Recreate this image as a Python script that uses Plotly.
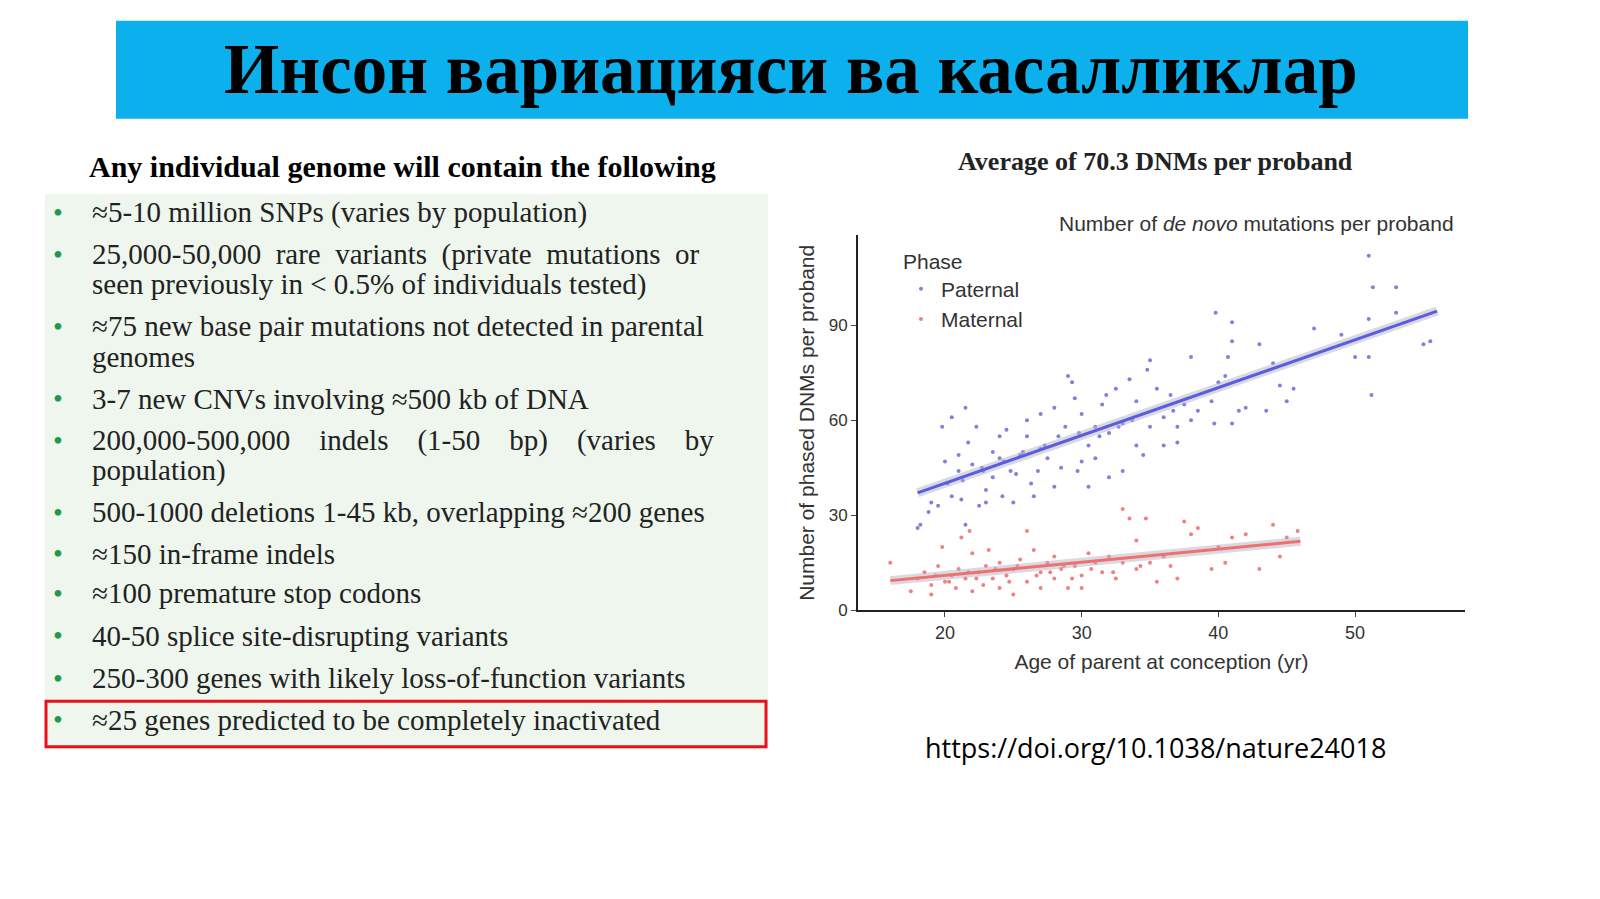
import numpy as np
import plotly.graph_objects as go

pat_age = [18,18.2,18.8,19,19.5,19.8,20,20.2,20.5,20.5,21,21,21.2,21.5,21.5,21.7,22,22.3,22.5,22.8,23,23,23.5,23.5,24,24,24.2,24.5,24.8,25,25.2,25.5,26,26,26.3,26.5,26.8,27,27,27.5,28,28,28.5,28.8,29,29.3,29.5,29.7,30,30,30.5,30.5,31,31,31.5,31.8,32,32,32.5,33,33,33.5,34,34,34.5,34.8,35,35,35.5,36,36,36.5,37,37,37.5,38,38,38.5,39.5,39.7,39.8,40,40.5,40.7,41,41,41,41.5,42,43,43.5,44,44.5,45,45.5,47,49,50,51,51,51,51.2,51.3,53,53,55,55.5,21.3,22.7,24.3,25.7,27.3,28.3,29.8,31.3,32.7,33.7,36.7]
pat_dnm = [26,27,31,34,33,58,47,40,36,61,49,44,35,64,27,53,46,58,33,44,38,34,50,42,48,55,36,57,44,34,43,49,55,60,40,36,44,62,51,48,64,39,45,58,74,72,67,44,62,47,39,52,48,58,65,68,42,56,70,44,59,73,66,52,49,76,79,58,70,61,52,68,58,53,65,80,60,63,66,59,94,72,74,80,91,85,59,63,64,84,63,78,71,66,70,89,87,80,112,92,80,68,102,102,94,84,85,41,45,47,50,52,55,56,55,58,60,63]
mat_age = [16,17.5,18,18.5,19,19,19.5,19.8,20,20.5,20.8,21,21.2,21.5,21.8,22,22,22.5,22.8,23,23.2,23.5,24,24,24.5,25,25,25.5,26,26,26.5,27,27,27.5,28,28,28.5,29,29.5,30,30,30.5,31,31.5,32,32.5,33,33,33.5,34,34,34.7,35,35.5,36,36.5,37,37.5,38,38.5,39.5,40,40.5,41,42,43,44,44.5,45,45.8,19.3,20.3,21.7,22.3,23.7,24.7,25.3,26.7,27.7,28.7,29.3,30.7,32.3,34.3]
mat_dnm = [15,6,10,12,8,5,14,20,9,11,7,13,23,10,25,6,18,12,8,14,19,10,7,15,11,13,5,16,25,9,19,12,7,15,17,10,13,7,14,11,7,18,15,12,17,10,32,15,29,13,22,29,15,9,17,14,10,28,24,26,13,20,15,23,24,13,27,17,23,25,11,9,12,10,13,9,14,11,12,14,10,13,12,14]

W, H = 1600, 899
def px(x): return x / W
def py(y): return 1 - y / H

fig = go.Figure()
fig.add_trace(go.Scatter(x=pat_age, y=pat_dnm, mode="markers", name="Paternal",
                         marker=dict(size=4, color="#6b6bd6", opacity=0.85)))
fig.add_trace(go.Scatter(x=mat_age, y=mat_dnm, mode="markers", name="Maternal",
                         marker=dict(size=4, color="#ee6b6b", opacity=0.85)))
for a, d, c, lo, hi in [(pat_age, pat_dnm, "#5c5ce0", 18, 56), (mat_age, mat_dnm, "#f07070", 16, 46)]:
    k, b = np.polyfit(a, d, 1)
    xs = np.array([lo, hi])
    fig.add_trace(go.Scatter(x=xs, y=k * xs + b, mode="lines", showlegend=False,
                             line=dict(color="rgba(180,180,195,0.5)", width=9), hoverinfo="skip"))
    fig.add_trace(go.Scatter(x=xs, y=k * xs + b, mode="lines", showlegend=False,
                             line=dict(color=c, width=3)))

shapes = [
    dict(type="rect", xref="paper", yref="paper", x0=px(108), x1=px(1460), y0=py(112), y1=py(13),
         fillcolor="#0bb0ec", line=dict(width=0), layer="below"),
    dict(type="rect", xref="paper", yref="paper", x0=px(37), x1=px(760), y0=py(750), y1=py(188),
         fillcolor="#eef6ee", line=dict(width=0), layer="below"),
    dict(type="rect", xref="paper", yref="paper", x0=px(38), x1=px(758), y0=py(747), y1=py(701),
         fillcolor="rgba(0,0,0,0)", line=dict(color="#e8101a", width=3)),
]
ann = [
    dict(x=px(783), y=py(62), text="<b>Инсон вариацияси ва касалликлар</b>",
         font=dict(family="Liberation Serif", size=71, color="black")),
    dict(x=px(394), y=py(160), text="<b>Any individual genome will contain the following</b>",
         font=dict(family="Liberation Serif", size=30, color="black")),
    dict(x=px(1147), y=py(155), text="<b>Average of 70.3 DNMs per proband</b>",
         font=dict(family="Liberation Serif", size=26, color="#222")),
    dict(x=px(1147), y=py(748), text="https://doi.org/10.1038/nature24018",
         font=dict(family="Open Sans", size=27, color="black")),
    dict(x=px(1448), y=py(218), text="Number of <i>de novo</i> mutations per proband",
         xanchor="right", font=dict(family="Liberation Sans", size=21, color="#333")),
]
bullet_y = [207, 249, 322, 395, 437, 510, 552, 592, 635, 678, 720]
bullet_lines = [
    ["≈5-10 million SNPs (varies by population)"],
    ["25,000-50,000  rare  variants  (private  mutations  or", "seen previously in < 0.5% of individuals tested)"],
    ["≈75 new base pair mutations not detected in parental", "genomes"],
    ["3-7 new CNVs involving ≈500 kb of DNA"],
    ["200,000-500,000    indels    (1-50    bp)    (varies    by", "population)"],
    ["500-1000 deletions 1-45 kb, overlapping ≈200 genes"],
    ["≈150 in-frame indels"],
    ["≈100 premature stop codons"],
    ["40-50 splice site-disrupting variants"],
    ["250-300 genes with likely loss-of-function variants"],
    ["≈25 genes predicted to be completely inactivated"],
]
for yy, lines in zip(bullet_y, bullet_lines):
    ann.append(dict(x=px(50), y=py(yy), text="•",
                    font=dict(family="Liberation Serif", size=28, color="#1f9a4a")))
    for i, t in enumerate(lines):
        ann.append(dict(x=px(82), y=py(yy + 31 * i), text=t, xanchor="left",
                        font=dict(family="Liberation Serif", size=29, color="#222")))
for a in ann:
    a.setdefault("xanchor", "center")
    a.update(xref="paper", yref="paper", showarrow=False, yanchor="middle")

fig.update_layout(
    width=W, height=H, margin=dict(l=0, r=0, t=0, b=0),
    paper_bgcolor="white", plot_bgcolor="white",
    shapes=shapes, annotations=ann,
    font=dict(family="Liberation Sans", color="#333"),
    xaxis=dict(domain=[px(850), px(1457)], range=[13.64, 58.04], tickvals=[20, 30, 40, 50],
               showgrid=False, zeroline=False, showline=True, linecolor="#222", linewidth=2,
               ticks="outside", ticklen=5, tickfont=dict(size=18),
               title=dict(text="Age of parent at conception (yr)", font=dict(size=21), standoff=12)),
    yaxis=dict(domain=[py(609), py(230)], range=[0, 118.4], tickvals=[0, 30, 60, 90],
               showgrid=False, zeroline=False, showline=True, linecolor="#222", linewidth=2,
               ticks="outside", ticklen=5, tickfont=dict(size=17),
               title=dict(text="Number of phased DNMs per proband", font=dict(size=21), standoff=8)),
    legend=dict(x=px(893), y=py(236), xanchor="left", yanchor="top", bgcolor="rgba(0,0,0,0)",
                title=dict(text="Phase", font=dict(size=21)), font=dict(size=21), itemsizing="trace",
                tracegroupgap=0),
)
fig.write_html("out.html")
